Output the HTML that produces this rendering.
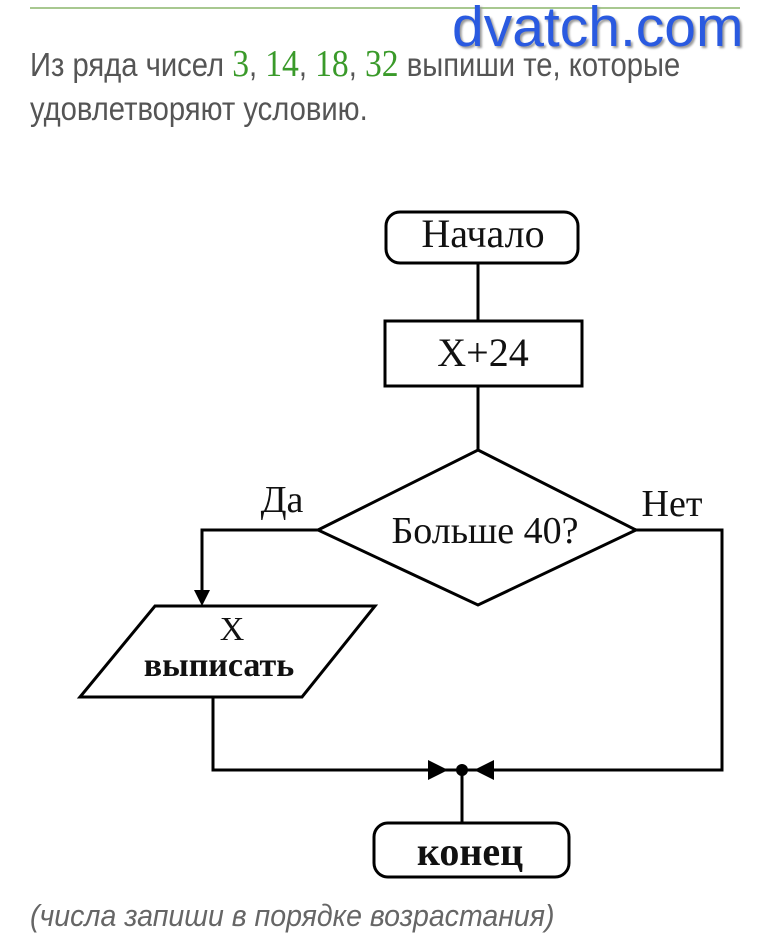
<!DOCTYPE html>
<html><head><meta charset="utf-8"><style>
body{margin:0;width:770px;height:950px;background:#fff;overflow:hidden;position:relative;font-family:"Liberation Sans","Noto Sans CJK SC",sans-serif}
.t{position:absolute;left:30px;color:#555;font-size:33px;white-space:nowrap;transform:scaleX(0.885);transform-origin:left}
.g{color:#3a9a2a;font-family:"Liberation Serif",serif;font-size:38px}
</style></head><body>
<div style="position:absolute;left:30px;top:7px;width:710px;height:2px;background:#a8c890"></div>
<div class="t" style="top:42px">Из ряда чисел <span class="g">3</span>, <span class="g">14</span>, <span class="g">18</span>, <span class="g">32</span> выпиши те, которые</div>
<div class="t" style="top:90px">удовлетворяют условию.</div>
<div style="position:absolute;left:452px;top:-6px;font-size:57px;color:#2a5ae0;text-shadow:2px 2px 2px #999;white-space:nowrap">dvatch.com</div>
<svg width="770" height="950" style="position:absolute;left:0;top:0" font-family="Liberation Serif,serif">
<g stroke="#000" stroke-width="3" fill="none">
<rect x="386" y="212" width="192" height="51" rx="14"/>
<line x1="478" y1="263" x2="478" y2="320"/>
<rect x="385" y="321" width="197" height="65"/>
<line x1="478" y1="386" x2="478" y2="450"/>
<polygon points="478,450 636,530 478,605 318,530"/>
<polyline points="318,530 202,530 202,595"/>
<polygon points="155,606 375,606 302,697 80,697"/>
<polyline points="213,697 213,770 430,770"/>
<polyline points="636,530 722,530 722,770 495,770"/>
<line x1="430" y1="770" x2="495" y2="770"/>
<line x1="462" y1="770" x2="462" y2="823"/>
<rect x="374" y="823" width="195" height="54" rx="14"/>
</g>
<polygon points="194,590 210,590 202,606" fill="#000"/>
<polygon points="428,760 448,770 428,780" fill="#000"/>
<polygon points="494,760 474,770 494,780" fill="#000"/>
<circle cx="462" cy="770" r="6" fill="#000"/>
<g font-size="40" fill="#111" text-anchor="middle">
<text x="483" y="247">Начало</text>
<text x="483" y="366">X+24</text>
<text x="485" y="543" font-size="38">Больше 40?</text>
<text x="282" y="512" font-size="38">Да</text>
<text x="672" y="516" font-size="38">Нет</text>
<text x="232" y="640" font-size="34">X</text>
<text x="219" y="676" font-weight="bold" font-size="34">выписать</text>
<text x="470" y="865" font-weight="bold">конец</text>
</g>
</svg>
<div style="position:absolute;left:30px;top:898px;font-size:31px;font-style:italic;color:#666;white-space:nowrap;transform:scaleX(0.92);transform-origin:left">(числа запиши в порядке возрастания)</div>
</body></html>
